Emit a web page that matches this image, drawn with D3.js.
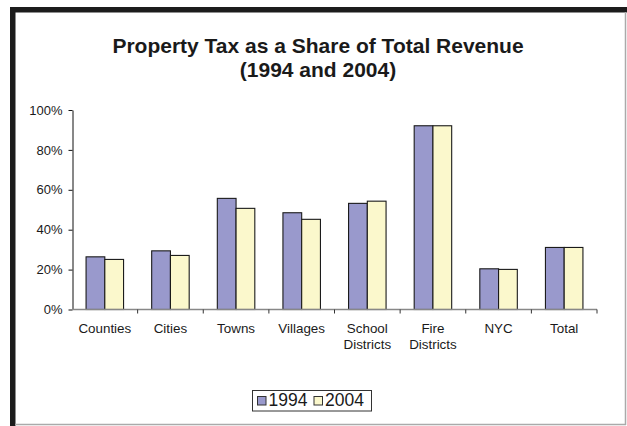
<!DOCTYPE html>
<html>
<head>
<meta charset="utf-8">
<script src="https://cdn.jsdelivr.net/npm/d3@7"></script>
<style>
  body { margin: 0; background: #fff; }
  svg text { font-family: "Liberation Sans", Arial, sans-serif; fill: #1a1a1a; }
</style>
</head>
<body>
<svg id="chart" width="627" height="426"></svg>
<script>
// data
const categories = [["Counties"], ["Cities"], ["Towns"], ["Villages"], ["School", "Districts"], ["Fire", "Districts"], ["NYC"], ["Total"]];
const years = ["1994", "2004"];
const values1994 = [0.264, 0.294, 0.557, 0.485, 0.532, 0.921, 0.204, 0.311];
const values2004 = [0.251, 0.271, 0.507, 0.452, 0.543, 0.921, 0.201, 0.311];
const yTicks = [0, 0.2, 0.4, 0.6, 0.8, 1];

const colors = { "1994": "#9999cc", "2004": "#fbf8cc" };

const svg = d3.select("#chart");
const names = categories.map(c => c.join(" "));
const rows = names.map((n, i) => ({ name: n, lines: categories[i], "1994": values1994[i], "2004": values2004[i] }));

// frame (thick dark top/left, thin grey right/bottom)
svg.append("rect").attr("x", 10).attr("y", 7).attr("width", 617).attr("height", 5.5).attr("fill", "#1c1c1c");
svg.append("rect").attr("x", 10).attr("y", 7).attr("width", 5.5).attr("height", 419).attr("fill", "#1c1c1c");
svg.append("line").attr("x1", 625.5).attr("x2", 625.5).attr("y1", 12).attr("y2", 425).attr("stroke", "#aaa").attr("stroke-width", 1.5);
svg.append("line").attr("x1", 15).attr("x2", 626).attr("y1", 424.5).attr("y2", 424.5).attr("stroke", "#aaa").attr("stroke-width", 1.5);

// title
const title = svg.append("text").attr("text-anchor", "middle").style("font-weight", "bold").style("font-size", "21px");
title.append("tspan").attr("x", 318).attr("y", 53).text("Property Tax as a Share of Total Revenue");
title.append("tspan").attr("x", 318).attr("y", 77).text("(1994 and 2004)");

const x0 = d3.scaleBand().domain(names).range([72, 597]);
const x1 = d3.scaleBand().domain(years).range([0, x0.bandwidth()]).paddingOuter(0.75);
const y = d3.scaleLinear().domain([0, 1]).range([309.5, 110]);

// bars
const groups = svg.append("g").selectAll("g").data(rows).join("g")
  .attr("transform", d => `translate(${x0(d.name)},0)`);
groups.selectAll("rect").data(d => years.map(k => ({ key: k, value: d[k] }))).join("rect")
  .attr("x", d => x1(d.key))
  .attr("y", d => y(d.value))
  .attr("width", x1.bandwidth())
  .attr("height", d => y(0) - y(d.value))
  .attr("fill", d => colors[d.key])
  .attr("stroke", "#1a1a1a")
  .attr("stroke-width", 1.1);

// y axis
const yAxis = svg.append("g").attr("transform", "translate(72.5,0)")
  .call(d3.axisLeft(y).tickValues(yTicks).tickFormat(d3.format(".0%")).tickSize(4).tickSizeOuter(0).tickPadding(6));
yAxis.selectAll("path, line").attr("stroke", "#111");
yAxis.selectAll("text").style("font-size", "13px").attr("fill", "#1a1a1a");

// x axis: grey line, ticks between categories
const bounds = names.map(n => x0(n)).concat([x0.range()[1]]);
const xAxis = svg.append("g");
xAxis.append("line").attr("x1", 72).attr("x2", 597).attr("y1", 309.5).attr("y2", 309.5)
  .attr("stroke", "#888").attr("stroke-width", 1.6);
xAxis.selectAll(".tick").data(bounds.slice(1)).join("line").attr("class", "tick")
  .attr("x1", d => d).attr("x2", d => d).attr("y1", 309.5).attr("y2", 313.5)
  .attr("stroke", "#333");

const labels = svg.append("g").selectAll("text").data(rows).join("text")
  .attr("text-anchor", "middle").style("font-size", "13.4px");
labels.selectAll("tspan").data(d => d.lines.map(l => ({ l, x: x0(d.name) + x0.bandwidth() / 2 }))).join("tspan")
  .attr("x", d => d.x).attr("y", (d, i) => 333 + i * 16.3).text(d => d.l);

// legend
const legend = svg.append("g");
legend.append("rect").attr("x", 252.5).attr("y", 390.5).attr("width", 119).attr("height", 20.5)
  .attr("fill", "#fff").attr("stroke", "#333");
const legendX = { "1994": 257.5, "2004": 314 };
years.forEach(k => {
  legend.append("rect").attr("x", legendX[k]).attr("y", 396.5).attr("width", 8.5).attr("height", 8.5)
    .attr("fill", colors[k]).attr("stroke", "#333");
  legend.append("text").attr("x", legendX[k] + 11).attr("y", 406).style("font-size", "17.5px").text(k);
});
</script>
</body>
</html>
